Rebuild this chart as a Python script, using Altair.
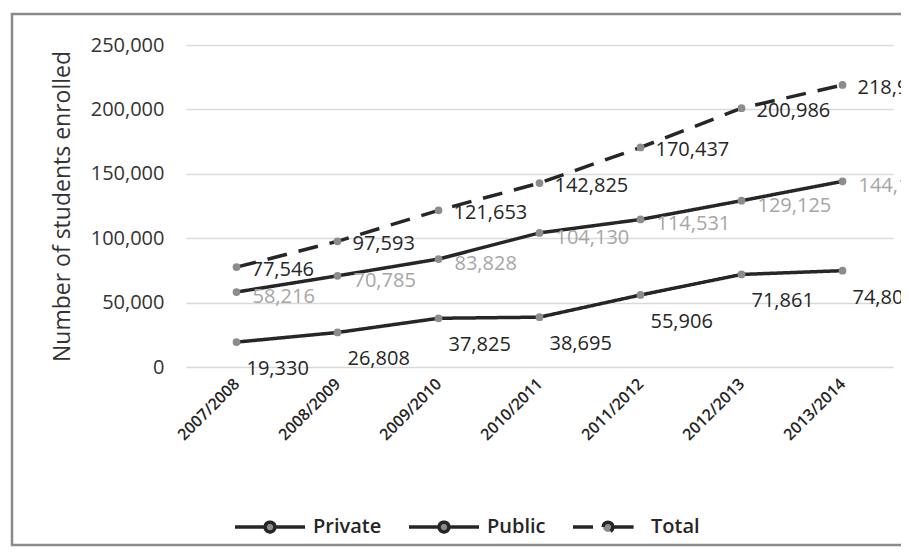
import altair as alt
import pandas as pd

years = ["2007/2008", "2008/2009", "2009/2010", "2010/2011", "2011/2012", "2012/2013", "2013/2014"]
private = [19330, 26808, 37825, 38695, 55906, 71861, 74802]
public = [58216, 70785, 83828, 104130, 114531, 129125, 144157]
total = [77546, 97593, 121653, 142825, 170437, 200986, 218959]
series_names = ["Private", "Public", "Total"]

rows = []
for name, vals in zip(series_names, [private, public, total]):
    for y, v in zip(years, vals):
        rows.append({"Year": y, "Series": name, "Students": v, "Label": f"{v:,}"})
df = pd.DataFrame(rows)

FONT = "Open Sans"
W, H = 707, 322
DARK = "#262626"

x = alt.X("Year:N", sort=years, title=None,
          axis=alt.Axis(labelAngle=-45, labelAlign="right", labelBaseline="middle",
                        labelFontSize=16, labelFontWeight=600, labelColor=DARK,
                        labelFont=FONT, ticks=False, domain=False, grid=False, labelPadding=14),
          scale=alt.Scale(paddingInner=0, paddingOuter=0.0))
y = alt.Y("Students:Q", title="Number of students enrolled",
          scale=alt.Scale(domain=[0, 250000], nice=False),
          axis=alt.Axis(values=[0, 50000, 100000, 150000, 200000, 250000], format=",.0f",
                        labelFontSize=20, labelColor="#333333", labelFont=FONT,
                        ticks=False, domain=False, gridColor="#d9d9d9", gridWidth=1.5,
                        labelPadding=22, titleFontSize=23, titleFont=FONT,
                        titleFontWeight="normal", titleColor="#333333", titlePadding=16))

base = alt.Chart(df)

frame = alt.Chart(pd.DataFrame({"a": [0]})).mark_rect(
    fill=None, stroke="#8a8a8a", strokeWidth=2.5
).encode(x=alt.value(-174), x2=alt.value(740), y=alt.value(-31), y2=alt.value(500))

SYMBOL = "M-1,0L-0.16,0M0.16,0L1,0M-0.14,0A0.14,0.14,0,1,1,0.14,0A0.14,0.14,0,1,1,-0.14,0Z"
legend = alt.Legend(title=None, orient="none", direction="horizontal",
                    legendX=47, legendY=445, symbolType=SYMBOL,
                    symbolSize=4900, symbolStrokeWidth=3.5, symbolFillColor="#8c8c8c",
                    labelFontSize=20, labelFont=FONT, labelFontWeight=600,
                    labelColor=DARK, columnPadding=20, labelOffset=6)

lines = base.mark_line(strokeWidth=3.5).encode(
    x=x, y=y,
    color=alt.Color("Series:N", sort=series_names,
                    scale=alt.Scale(domain=series_names, range=[DARK, DARK, DARK]),
                    legend=legend),
    strokeDash=alt.StrokeDash("Series:N", sort=series_names,
                              scale=alt.Scale(domain=series_names, range=[[1, 0], [1, 0], [20, 12]]),
                              legend=legend),
)

points = base.mark_point(filled=True, size=60, color="#8c8c8c", opacity=1).encode(x=x, y=y)

lab_private = base.transform_filter(alt.datum.Series == "Private").mark_text(
    align="left", baseline="middle", dx=10, dy=27, fontSize=20, font=FONT, color=DARK
).encode(x=x, y=y, text="Label:N")
lab_public = base.transform_filter(alt.datum.Series == "Public").mark_text(
    align="left", baseline="middle", dx=16, dy=5, fontSize=20, font=FONT, color="#a6a6a6"
).encode(x=x, y=y, text="Label:N")
lab_total = base.transform_filter(alt.datum.Series == "Total").mark_text(
    align="left", baseline="middle", dx=15, dy=3, fontSize=20, font=FONT, color=DARK
).encode(x=x, y=y, text="Label:N")

chart = alt.layer(frame, lines, points, lab_private, lab_public, lab_total).properties(
    width=W, height=H,
    autosize=alt.AutoSizeParams(type="none"),
    padding={"left": 178, "top": 37, "right": 8, "bottom": 180},
).configure_view(stroke=None)

chart.save("out.html", embed_options={"renderer": "svg", "actions": False})
